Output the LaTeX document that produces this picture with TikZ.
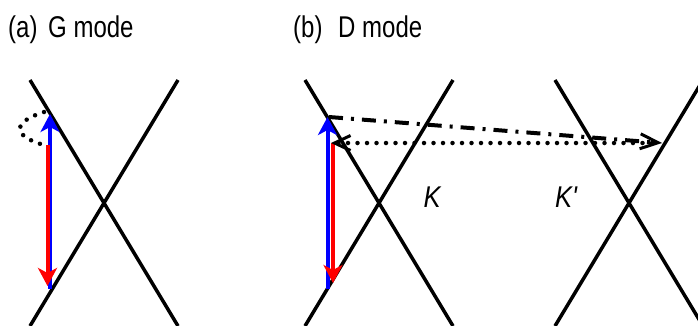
\documentclass[tikz,border=0pt]{standalone}
\usepackage{graphicx}
\usepackage{fontspec}
\setmainfont{Liberation Sans}
\usetikzlibrary{arrows.meta}

\begin{document}
\begin{tikzpicture}[
    x=1pt, y=-1pt,
    font=\fontsize{30}{34}\selectfont,
    cone/.style={line width=3.5pt, draw=black},
    band/.style={line width=4pt, -{Stealth[length=18pt, width=19pt, inset=5pt]}},
    phonon/.style={line width=4pt, dash pattern=on 14pt off 8pt on 3pt off 8pt, -{Straight Barb[length=18pt, width=15pt, line width=3pt]}},
    defect/.style={line width=4.5pt, line cap=round, dash pattern=on 0pt off 9.5pt},
    title/.style={anchor=base west, inner sep=0pt},
    valley/.style={inner sep=0pt, font=\fontsize{30}{34}\selectfont\itshape}
]
\useasboundingbox (0,0) rectangle (698,325);

% Titles
\node[title] (lbl_a) at (8,37) {\scalebox{0.8}[1]{(a)}};
\node[title] (mode_a) at (48,37) {\scalebox{0.8}[1]{G mode}};
\node[title] (lbl_b) at (293,37) {\scalebox{0.8}[1]{(b)}};
\node[title] (mode_b) at (338,37) {\scalebox{0.8}[1]{D mode}};

% Panel (a): one Dirac cone
\draw[cone] (30,80) -- (178,326);
\draw[cone] (178,80) -- (30,326);

\coordinate (ga_low) at (50,289);
\coordinate (ga_up) at (50,114);
\coordinate (ga_back) at (47.5,145);
\coordinate (ga_end) at (47.5,286);
\coordinate (ga_loop) at (44,112);
\coordinate (ga_loopend) at (44,145);

\draw[band, blue] (ga_low) -- (ga_up);
\draw[band, red] (ga_back) -- (ga_end);
\draw[defect] (ga_loop) .. controls (12,122) and (12,136) .. (ga_loopend);

% Panel (b): cones at K and K'
\draw[cone] (305,80) -- (453,326);
\draw[cone] (453,80) -- (305,326);
\draw[cone] (555,80) -- (703,326);
\draw[cone] (703,80) -- (555,326);

\node[valley] (k) at (432,197) {\scalebox{0.85}[1]{K}};
\node[valley] (kp) at (566,197) {\scalebox{0.85}[1]{K\textquotesingle}};

\coordinate (db_low) at (327.5,289);
\coordinate (db_up) at (327.5,117);
\coordinate (db_back) at (333,143);
\coordinate (db_end) at (333,283);
\coordinate (db_start) at (329,117);
\coordinate (db_far) at (662,143);
\coordinate (db_ret) at (652,143);
\coordinate (db_near) at (331,143);

\draw[band, blue] (db_low) -- (db_up);
\draw[band, red] (db_back) -- (db_end);
\draw[phonon] (db_start) -- (db_far);
\draw[defect, -{Straight Barb[length=16pt, width=15pt, line width=3pt]}] (db_ret) -- (db_near);

\end{tikzpicture}
\end{document}
